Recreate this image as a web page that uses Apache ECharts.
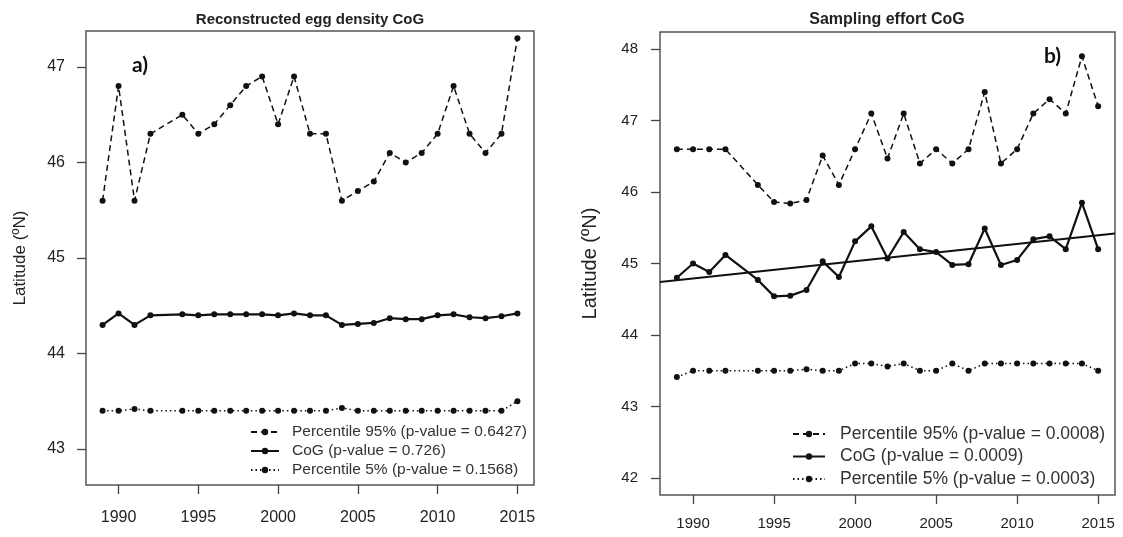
<!DOCTYPE html>
<html>
<head>
<meta charset="utf-8">
<script src="https://cdn.jsdelivr.net/npm/echarts@6/dist/echarts.min.js"></script>
<style>
  html, body { margin: 0; padding: 0; background: #fff; }
  #chart { width: 1123px; height: 537px; }
</style>
</head>
<body>
<div id="chart"></div>
<script>
// ---- data ----
const years = [1989, 1990, 1991, 1992, 1994, 1995, 1996, 1997, 1998, 1999, 2000, 2001, 2002,
               2003, 2004, 2005, 2006, 2007, 2008, 2009, 2010, 2011, 2012, 2013, 2014, 2015];

// a) Reconstructed egg density CoG
const eggP95 = [45.6, 46.8, 45.6, 46.3, 46.5, 46.3, 46.4, 46.6, 46.8, 46.9, 46.4, 46.9, 46.3,
                46.3, 45.6, 45.7, 45.8, 46.1, 46.0, 46.1, 46.3, 46.8, 46.3, 46.1, 46.3, 47.3];
const eggCoG = [44.30, 44.42, 44.30, 44.40, 44.41, 44.40, 44.41, 44.41, 44.41, 44.41, 44.40, 44.42, 44.40,
                44.40, 44.30, 44.31, 44.32, 44.37, 44.36, 44.36, 44.40, 44.41, 44.38, 44.37, 44.39, 44.42];
const eggP5  = [43.40, 43.40, 43.42, 43.40, 43.40, 43.40, 43.40, 43.40, 43.40, 43.40, 43.40, 43.40, 43.40,
                43.40, 43.43, 43.40, 43.40, 43.40, 43.40, 43.40, 43.40, 43.40, 43.40, 43.40, 43.40, 43.50];

// b) Sampling effort CoG
const effP95 = [46.6, 46.6, 46.6, 46.6, 46.1, 45.86, 45.84, 45.89, 46.51, 46.1, 46.6, 47.1, 46.47,
                47.1, 46.4, 46.6, 46.4, 46.6, 47.4, 46.4, 46.6, 47.1, 47.3, 47.1, 47.9, 47.2];
const effCoG = [44.80, 45.00, 44.88, 45.12, 44.77, 44.54, 44.55, 44.63, 45.03, 44.81, 45.31, 45.52, 45.07,
                45.44, 45.20, 45.16, 44.98, 44.99, 45.49, 44.98, 45.05, 45.34, 45.38, 45.20, 45.85, 45.20];
const effP5  = [43.41, 43.50, 43.50, 43.50, 43.50, 43.50, 43.50, 43.52, 43.50, 43.50, 43.60, 43.60, 43.56,
                43.60, 43.50, 43.50, 43.60, 43.50, 43.60, 43.60, 43.60, 43.60, 43.60, 43.60, 43.60, 43.50];
const effTrend = [44.74, 45.42]; // fitted line value at the left and right edge of the x range

// tick labels
const xTicks = [1990, 1995, 2000, 2005, 2010, 2015];
const yTicksA = [43, 44, 45, 46, 47];
const yTicksB = [42, 43, 44, 45, 46, 47, 48];

// legend names
const namesA = ['Percentile 95% (p-value = 0.6427)', 'CoG (p-value = 0.726)', 'Percentile 5% (p-value = 0.1568)'];
const namesB = ['Percentile 95% (p-value = 0.0008)', 'CoG (p-value = 0.0009)', 'Percentile 5% (p-value = 0.0003)'];
const titles = ['Reconstructed egg density CoG', 'Sampling effort CoG'];
const yTitle = 'Latitude (ºN)';

// ---- chart ----
const FONT = '"Liberation Sans", Arial, sans-serif';
const INK = '#111';
const TXT = '#222';
const X_MIN = 1987.96, X_MAX = 2016.04;

const pair = (ys) => years.map((y, i) => [y, ys[i]]);

const styles = [
  { type: [6, 4], width: 1.5 },
  { type: 'solid', width: 2.2 },
  { type: [1.5, 3], width: 1.5 }
];

function mkSeries(names, arrays, idx) {
  return arrays.map((arr, k) => ({
    name: names[k],
    type: 'line',
    xAxisIndex: idx, yAxisIndex: idx,
    data: pair(arr),
    symbol: 'circle',
    symbolSize: 6,
    itemStyle: { color: INK },
    lineStyle: { color: INK, width: styles[k].width, type: styles[k].type },
    z: 3 - k
  }));
}

function xAxis(idx, fs, margin) {
  return {
    type: 'value', gridIndex: idx, min: X_MIN, max: X_MAX,
    axisLine: { show: false },
    splitLine: { show: false },
    axisTick: { show: true, inside: false, length: 9, customValues: xTicks,
                lineStyle: { color: '#444', width: 1.3 } },
    axisLabel: { customValues: xTicks, formatter: v => String(v), fontFamily: FONT,
                 fontSize: fs, color: TXT, margin: margin }
  };
}

function yAxis(idx, min, max, ticks, fs, margin, nameFs, nameGap) {
  return {
    type: 'value', gridIndex: idx, min: min, max: max,
    name: yTitle, nameLocation: 'middle', nameRotate: 90, nameGap: nameGap,
    nameTextStyle: { fontFamily: FONT, fontSize: nameFs, color: TXT },
    axisLine: { show: false },
    splitLine: { show: false },
    axisTick: { show: true, inside: false, length: 9, customValues: ticks,
                lineStyle: { color: '#444', width: 1.3 } },
    axisLabel: { customValues: ticks, formatter: v => String(v), fontFamily: FONT,
                 fontSize: fs, color: TXT, margin: margin }
  };
}

const chart = echarts.init(document.getElementById('chart'), null, { renderer: 'canvas' });

const series = [
  ...mkSeries(namesA, [eggP95, eggCoG, eggP5], 0),
  ...mkSeries(namesB, [effP95, effCoG, effP5], 1),
  {
    name: 'trend', type: 'line', xAxisIndex: 1, yAxisIndex: 1,
    data: [[X_MIN, effTrend[0]], [X_MAX, effTrend[1]]],
    symbol: 'none', lineStyle: { color: INK, width: 2, type: 'solid' }, z: 1
  }
];

chart.setOption({
  animation: false,
  backgroundColor: '#fff',
  grid: [
    { left: 86, top: 31, width: 448, height: 454, show: true, borderColor: '#555', borderWidth: 1.5,
      backgroundColor: 'transparent', containLabel: false },
    { left: 660, top: 32, width: 455, height: 463, show: true, borderColor: '#555', borderWidth: 1.5,
      backgroundColor: 'transparent', containLabel: false }
  ],
  xAxis: [xAxis(0, 16, 25), xAxis(1, 15, 21)],
  yAxis: [
    yAxis(0, 42.624, 47.376, yTicksA, 16, 21, 17, 57),
    yAxis(1, 41.76, 48.24, yTicksB, 15, 22, 20, 60)
  ],
  title: [
    { text: titles[0], left: 310, top: 12, padding: 0, textAlign: 'center',
      textStyle: { fontFamily: FONT, fontSize: 15, fontWeight: 'bold', color: TXT } },
    { text: titles[1], left: 887, top: 12, padding: 0, textAlign: 'center',
      textStyle: { fontFamily: FONT, fontSize: 16, fontWeight: 'bold', color: TXT } }
  ],
  legend: [
    { data: namesA, orient: 'vertical', left: 250, top: 424, padding: 0,
      itemWidth: 28, itemHeight: 8, itemGap: 3, selectedMode: false,
      textStyle: { fontFamily: FONT, fontSize: 15.5, color: '#333', padding: [0, 0, 0, 8] } },
    { data: namesB, orient: 'vertical', left: 792, top: 425, padding: 0,
      itemWidth: 32, itemHeight: 8, itemGap: 4.5, selectedMode: false,
      textStyle: { fontFamily: FONT, fontSize: 17.5, color: '#333', padding: [0, 0, 0, 10] } }
  ],
  graphic: [
    { type: 'text', left: 132, top: 55, style: { text: 'a)', fontFamily: 'Lato, "Open Sans", sans-serif',
      fontWeight: 'bold', fontSize: 21, fill: '#111' } },
    { type: 'text', left: 1044, top: 46, style: { text: 'b)', fontFamily: 'Lato, "Open Sans", sans-serif',
      fontWeight: 'bold', fontSize: 21, fill: '#111' } }
  ],
  series: series
});
</script>
</body>
</html>
